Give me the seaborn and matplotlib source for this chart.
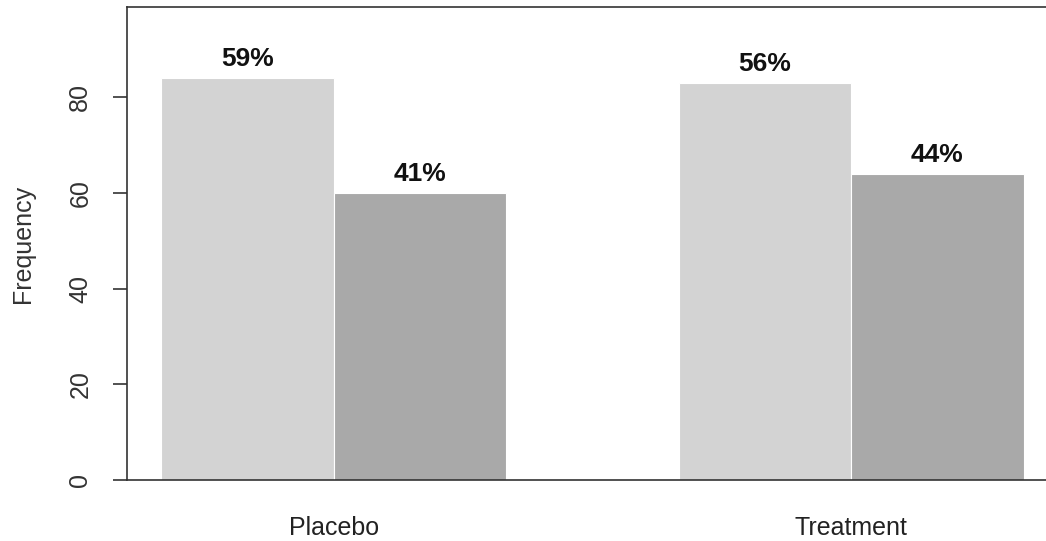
import matplotlib
matplotlib.use("Agg")
import matplotlib.pyplot as plt
import seaborn as sns
import pandas as pd

# ---- data ----
groups = ["Placebo", "Treatment"]
outcomes = ["Outcome 1", "Outcome 2"]
counts_outcome1 = [84, 83]
counts_outcome2 = [60, 64]
pct_outcome1 = ["59%", "56%"]
pct_outcome2 = ["41%", "44%"]

df = pd.DataFrame({
    "group": groups + groups,
    "outcome": [outcomes[0]] * 2 + [outcomes[1]] * 2,
    "count": counts_outcome1 + counts_outcome2,
})

sns.set_theme(style="white")
plt.rcParams["font.family"] = ["Liberation Sans", "DejaVu Sans"]

fig = plt.figure(figsize=(10.46, 5.41), dpi=100)
ax = fig.add_axes([127 / 1046, 1 - 480 / 541, (1058 - 127) / 1046, (480 - 7) / 541])

sns.barplot(data=df, x="group", y="count", hue="outcome", order=groups,
            hue_order=outcomes, palette=["#d3d3d3", "#a9a9a9"], width=2 / 3,
            dodge=True, edgecolor="white", linewidth=0.8, saturation=1,
            legend=False, ax=ax)

for cont, labs in zip(ax.containers, [pct_outcome1, pct_outcome2]):
    ax.bar_label(cont, labels=labs, padding=5, fontsize=19, fontweight="bold",
                 color="#111111")

ax.set_xlim(-0.4, 1.4)
ax.set_ylim(0, 98.9)
ax.set_yticks([0, 20, 40, 60, 80])
ax.set_xlabel("")
ax.set_ylabel("Frequency", fontsize=18, color="#333333", labelpad=24)

ax.tick_params(axis="y", which="both", left=True, length=10, width=1.2,
               color="#333333", pad=15, labelsize=18, labelcolor="#333333")
for lab in ax.get_yticklabels():
    lab.set_rotation(90)
    lab.set_va("center")
ax.tick_params(axis="x", bottom=False, length=0, pad=26, labelsize=18,
               labelcolor="#222222")

for side in ["left", "top", "bottom"]:
    ax.spines[side].set_visible(True)
    ax.spines[side].set_color("#333333")
    ax.spines[side].set_linewidth(1.2)
ax.spines["right"].set_visible(False)
ax.grid(False)

fig.savefig("out.png", dpi=100)
